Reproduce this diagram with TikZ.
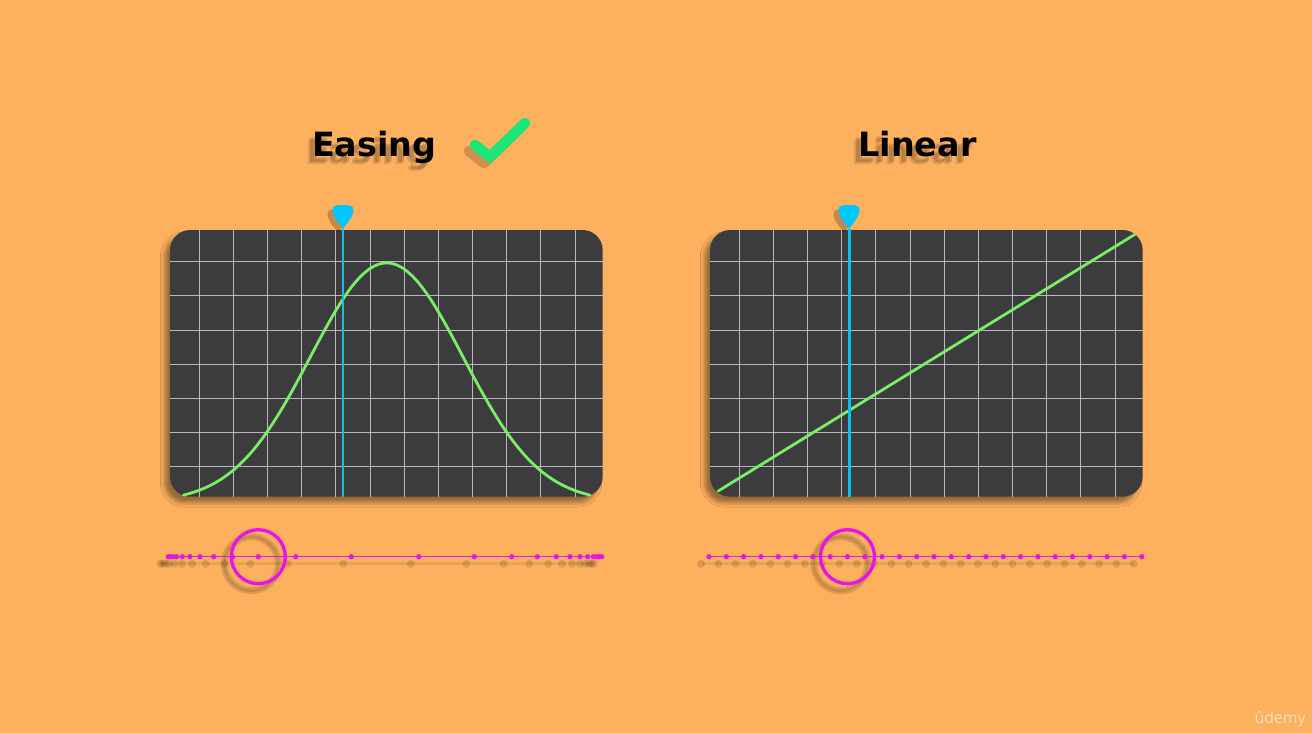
\documentclass[tikz,border=0pt]{standalone}
\usepackage{fontspec}
\newfontfamily\titlefont{DejaVu Sans}
\newfontfamily\markfont{Open Sans}
\usepackage{xcolor}
\usetikzlibrary{shadows.blur,positioning}

\definecolor{bgorange}{RGB}{253,176,94}
\definecolor{panelgray}{RGB}{60,59,62}
\definecolor{gridgray}{RGB}{185,185,189}
\definecolor{cursorblue}{RGB}{20,190,235}
\definecolor{pinblue}{RGB}{0,200,255}
\definecolor{curvegreen}{RGB}{122,238,102}
\definecolor{dotmagenta}{RGB}{230,20,235}
\definecolor{tickgreen}{RGB}{28,230,120}

\tikzset{
  panelbox/.style={rectangle, fill=panelgray, rounded corners=0.4cm,
    minimum width=8.654cm, minimum height=5.334cm, inner sep=0pt,
    blur shadow={shadow xshift=-3pt, shadow yshift=-3.5pt, shadow blur radius=2.5pt, shadow opacity=40}},
  gridline/.style={draw=gridgray, line width=0.5pt},
  cursorline/.style={draw=cursorblue, line width=1.7pt},
  easecurve/.style={draw=curvegreen, line width=1.6pt, line cap=round},
  trackline/.style={draw=dotmagenta, line width=0.6pt},
  framedot/.style={circle, fill=dotmagenta, inner sep=0pt, minimum size=3pt},
  lensring/.style={circle, draw=dotmagenta, line width=1.9pt, inner sep=0pt, minimum size=1.08cm},
  titletext/.style={font=\titlefont\bfseries\fontsize{19}{22}\selectfont, inner sep=0pt, anchor=base west},
  tickstroke/.style={draw=tickgreen, line width=6pt, line cap=round, line join=round},
  pics/cursorpin/.style={code={
    \foreach \dx/\dy/\col/\op in {-5/4/black/0.22, 0/0/pinblue/1}
      \fill[\col, opacity=\op, shift={(\dx,\dy)}] (0,0) .. controls (-3,-5) and (-10.5,-12) .. (-10.5,-19)
        .. controls (-10.5,-23.5) and (-7,-24) .. (0,-24) .. controls (7,-24) and (10.5,-23.5) .. (10.5,-19)
        .. controls (10.5,-12) and (3,-5) .. cycle;
  }},
}

\begin{document}
\begin{tikzpicture}[x=0.02cm, y=-0.02cm]

  % Background
  \fill[bgorange] (0,0) rectangle (1312,733);
  \useasboundingbox (0,0) rectangle (1312,733);

  % Titles (with soft shadow)
  \foreach \sx/\sy/\so in {-5/6/0.16, -7/8/0.12}{
    \node[titletext, text=black, text opacity=\so] at (311.7+\sx,156.7+\sy) {Easing};
    \node[titletext, text=black, text opacity=\so] at (858+\sx,157+\sy) {Linear};
  }
  \node[titletext] (easetitle) at (311.7,156.7) {Easing};
  \node[titletext] (lintitle) at (858,157) {Linear};

  % Check mark
  \coordinate (tickA) at (475,145);
  \coordinate (tickB) at (490,157);
  \coordinate (tickC) at (525,123);
  \draw[tickstroke, draw=black, opacity=0.18] ([shift={(-6,6)}]tickA) -- ([shift={(-6,6)}]tickB) -- ([shift={(-6,6)}]tickC);
  \draw[tickstroke] (tickA) -- (tickB) -- (tickC);

  % Panels
  \node[panelbox] (easebox) at (386.35,363.35) {};
  \node[panelbox] (linbox) at (926.35,363.35) {};

  % Grids
  \foreach \ox in {0,540}{
    \foreach \i in {0,...,11}
      \draw[gridline] (\ox+199.3+34.15*\i,230) -- (\ox+199.3+34.15*\i,496.7);
    \foreach \j in {0,...,6}
      \draw[gridline] (\ox+170,261.7+34.17*\j) -- (\ox+602.7,261.7+34.17*\j);
  }

  % Curves
  \draw[easecurve] plot[domain=183.3:590, samples=150, smooth]
    (\x,{495-239*(exp(-0.5*((\x-386.7)/76.4)^2)-0.0293)});
  \coordinate (linstart) at (718.3,491);
  \coordinate (linend) at (1135,234.3);
  \draw[easecurve] (linstart) -- (linend);

  % Cursors
  \coordinate (easepin) at (343,229);
  \coordinate (linpin) at (849,229);
  \draw[cursorline] (easepin) -- (easepin |- easebox.south);
  \draw[cursorline] (linpin) -- (linpin |- linbox.south);
  \pic at (easepin) {cursorpin};
  \pic at (linpin) {cursorpin};

  % Easing frames
  \coordinate (easetrackL) at (168.3,556.7);
  \coordinate (easetrackR) at (601.7,556.7);
  \draw[black, opacity=0.08, line width=1.6pt] ([shift={(-8,7)}]easetrackL) -- ([shift={(-8,7)}]easetrackR);
  \draw[black, opacity=0.12, line width=4pt] (251.3,563.7) circle[radius=27];
  \draw[black, opacity=0.10, line width=1.5pt] (251.3,563.7) circle[radius=27];
  \draw[trackline] (easetrackL) -- (easetrackR);
  \foreach \d [count=\k] in {33.7,89.3,126.7,152.3,171.3,185,195,202.7,208.3,211.7,214.3,216.7}{
    \fill[black, opacity=0.12] (385-\d-8,563.7) circle[radius=4];
    \fill[black, opacity=0.12] (385+\d-8,563.7) circle[radius=4];
    \node[framedot] (easedotL\k) at (385-\d,556.7) {};
    \node[framedot] (easedotR\k) at (385+\d,556.7) {};
  }
  \node[lensring] (easelens) at (easedotL3) {};

  % Linear frames
  \coordinate (lintrackL) at (709,556.7);
  \coordinate (lintrackR) at (1141.7,556.7);
  \draw[black, opacity=0.08, line width=1.6pt] ([shift={(-8,7)}]lintrackL) -- ([shift={(-8,7)}]lintrackR);
  \draw[black, opacity=0.12, line width=4pt] (840.7,563.7) circle[radius=27];
  \draw[black, opacity=0.10, line width=1.5pt] (840.7,563.7) circle[radius=27];
  \draw[trackline] (lintrackL) -- (lintrackR);
  \foreach \i in {0,...,25}{
    \fill[black, opacity=0.12] (709+17.31*\i-8,563.7) circle[radius=4];
    \node[framedot] (lindot\i) at (709+17.31*\i,556.7) {};
  }
  \node[lensring] (linlens) at (lindot8) {};

  % Watermark
  \node[font=\markfont\fontsize{9}{10}\selectfont, text=white, text opacity=0.6] (udemymark) at (1280,719) {ûdemy};

\end{tikzpicture}
\end{document}
